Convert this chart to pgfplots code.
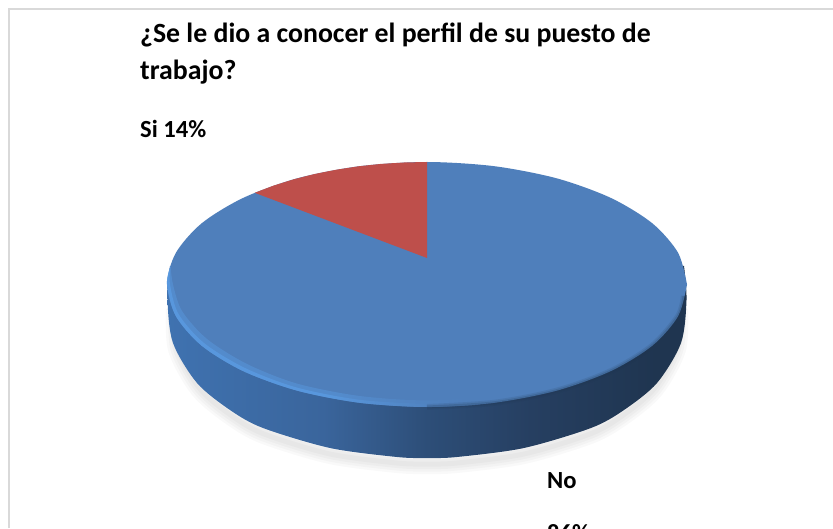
\documentclass[border=0pt]{standalone}
\usepackage{pgfplots}
\pgfplotsset{compat=1.18}
\usepackage{pgfplotstable}
\usepackage{fontspec}
\setmainfont{Carlito}
\definecolor{sliceNo}{HTML}{4F7FBB}
\definecolor{sliceSi}{HTML}{BE4F4B}
\definecolor{rimLight}{HTML}{5A9BE2}
\definecolor{frameGrey}{HTML}{D9D9D9}
\definecolor{wallA}{HTML}{3F72B0}
\definecolor{wallB}{HTML}{3A659C}
\definecolor{wallC}{HTML}{2D4E78}
\definecolor{wallD}{HTML}{263F61}
\definecolor{wallE}{HTML}{1F3550}
\pgfdeclarehorizontalshading{wallNo}{100bp}{
  color(0bp)=(wallA); color(25bp)=(wallA); color(40bp)=(wallB);
  color(50bp)=(wallC); color(60bp)=(wallD); color(72bp)=(wallE); color(100bp)=(wallE)}
\pgfdeclarehorizontalshading{rimNo}{100bp}{
  color(0bp)=(rimLight); color(50bp)=(rimLight); color(70bp)=(sliceNo); color(100bp)=(sliceNo)}
\tikzset{chartlabel/.style={inner sep=0pt, anchor=base west, font=\fontsize{#1}{#1}\selectfont\bfseries}}
% Top face of the disc
\pgfplotstableread{
x y
687 243.5
678.1 275.2
652.2 304.8
610.8 330.1
557 349.6
494.3 361.8
427 366
359.7 361.8
297 349.6
243.2 330.1
201.8 304.8
175.9 275.2
167 243.5
175.9 211.8
201.8 182.2
243.2 156.9
297 137.4
359.7 125.2
427 121
494.3 125.2
557 137.4
610.8 156.9
652.2 182.2
678.1 211.8
687 243.5
}\faceNo
% Si slice: 14% of the disc, 50.4 degrees, with the rear rim foreshortened
\pgfplotstableread{
x y
427 270
427 366
404 365.5
381.1 364.1
358.5 361.7
336.3 358.3
314.6 354
293.7 348.7
273.6 342.4
254.7 335.2
}\faceSi
% Side wall below the rim
\pgfplotstableread{
x y
170 262
167.5 228
173 185
197 145
230 118
263 100
330 80
397 71
427 70
457 71
524 80
591 100
624 118
657 145
681 185
686.5 228
684 262
}\wall
% Outline of the soft shadow under the wall
\pgfplotstableread{
x y
176 225
178 185
200 145
232 118
264 100
330 80
397 71
427 70
457 71
524 80
590 100
622 118
654 145
676 185
678 225
}\shadowline
% Wide, faint bevel along the front left of the rim
\pgfplotstableread{
x y
170.5 262
167 243.5
175.9 211.8
201.8 182.2
243.2 156.9
297 137.4
359.7 125.2
427 121
494.3 125.2
494.3 131
427 127.5
359.7 132
297 144.4
247 164
207 189
182 217
173 243.5
170.5 262
}\bevelwide
% Narrow, bright bevel along the same rim
\pgfplotstableread{
x y
170.5 262
167 243.5
175.9 211.8
201.8 182.2
243.2 156.9
297 137.4
359.7 125.2
427 121
480 123.5
427 124
359.7 128.2
297 140.4
245 160
204 185
178.5 214
170 243.5
170.5 262
}\bevelnarrow
% Front right of the rim
\pgfplotstableread{
x y
427 121
494.3 125.2
557 137.4
610.8 156.9
652.2 182.2
678.1 211.8
684 232
}\rimright
\begin{document}
\begin{tikzpicture}
\begin{axis}[
  scale only axis, width=833pt, height=528pt,
  xmin=0, xmax=833, ymin=0, ymax=528,
  hide axis, clip=true,
  every axis plot/.append style={no markers},
]
\path (axis cs:0,0) rectangle (axis cs:833,528);
% frame
\addplot[frameGrey, line width=2pt] coordinates {(9,0) (9,519) (833,519)};
% shadow
\addplot[smooth, draw=black, draw opacity=.022, line width=20pt, yshift=-6pt] table {\shadowline};
\addplot[smooth, draw=black, draw opacity=.022, line width=15pt, yshift=-6pt] table {\shadowline};
\addplot[smooth, draw=black, draw opacity=.025, line width=10pt, yshift=-6pt] table {\shadowline};
\addplot[smooth, draw=black, draw opacity=.025, line width=5pt, yshift=-6pt] table {\shadowline};
% wall, face, slice, rim
\addplot[smooth, draw=none, shading=wallNo] table {\wall};
\addplot[smooth, draw=none, fill=sliceNo] table {\faceNo};
\addplot[draw=none, fill=sliceSi] table {\faceSi};
\addplot[smooth, draw=none, shading=rimNo, opacity=.45] table {\bevelwide};
\addplot[smooth, draw=none, shading=rimNo, opacity=.8] table {\bevelnarrow};
\addplot[smooth, draw=wallE, draw opacity=.12, line width=6pt] table {\rimright};
\addplot[smooth, draw=wallE, draw opacity=.2, line width=3pt] table {\rimright};
% labels
\node[chartlabel=27.8] at (axis cs:140,485) {¿Se le dio a conocer el perfil de su puesto de};
\node[chartlabel=27.8] at (axis cs:140,448) {trabajo?};
\node[chartlabel=24.6] at (axis cs:140,390) {Si 14\%};
\node[chartlabel=24.6] at (axis cs:547,40) {No};
\node[chartlabel=24.6] at (axis cs:547,-13) {86\%};
\end{axis}
\end{tikzpicture}
\end{document}
